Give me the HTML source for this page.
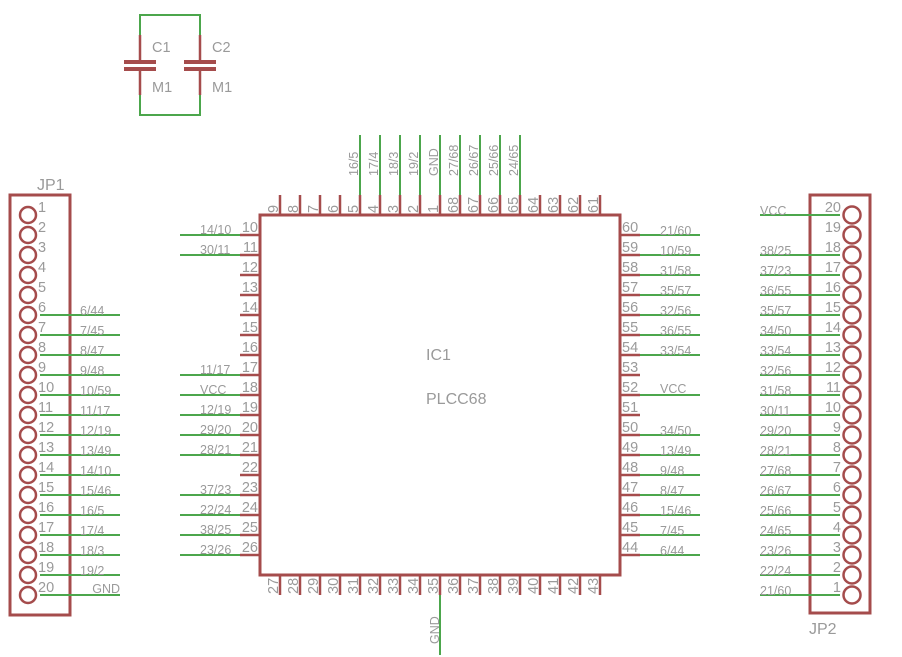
<!DOCTYPE html>
<html><head><meta charset="utf-8"><style>
html,body{margin:0;padding:0;background:#fff;}
svg{display:block;}
text{font-family:"Liberation Sans",sans-serif;fill:#9a9a9a;}
.n{font-size:14.5px;}
.l{font-size:12.5px;}
.r{stroke:#a54c4c;stroke-width:3;fill:none;}
.rs{stroke:#a54c4c;stroke-width:2.5;fill:none;}
.g{stroke:#4ca64c;stroke-width:2;fill:none;}
</style></head><body>
<svg width="902" height="657" viewBox="0 0 902 657" xmlns="http://www.w3.org/2000/svg">
<!-- capacitors -->
<path class="g" d="M140 35 V15 H200 V35 M140 95 V115 H200 V95"/>
<path class="rs" d="M140 35 V62 M140 69 V95 M200 35 V62 M200 69 V95"/>
<path d="M124 62 H156 M124 69 H156 M184 62 H216 M184 69 H216" stroke="#a54c4c" stroke-width="4"/>
<text class="n" x="152" y="52">C1</text><text class="n" x="212" y="52">C2</text>
<text class="n" x="152" y="92">M1</text><text class="n" x="212" y="92">M1</text>

<!-- IC body -->
<rect x="260" y="215" width="360" height="360" class="r"/>
<text x="426" y="360" style="font-size:16px">IC1</text>
<text x="426" y="404" style="font-size:16px">PLCC68</text>

<!-- left stubs -->
<path class="rs" d="M240 235H260M240 255H260M240 275H260M240 295H260M240 315H260M240 335H260M240 355H260M240 375H260M240 395H260M240 415H260M240 435H260M240 455H260M240 475H260M240 495H260M240 515H260M240 535H260M240 555H260"/>
<path class="g" d="M180 235H240M180 255H240M180 375H240M180 395H240M180 415H240M180 435H240M180 455H240M180 495H240M180 515H240M180 535H240M180 555H240"/>
<g class="n" text-anchor="end">
<text x="258" y="232">10</text><text x="258" y="252">11</text><text x="258" y="272">12</text><text x="258" y="292">13</text><text x="258" y="312">14</text><text x="258" y="332">15</text><text x="258" y="352">16</text><text x="258" y="372">17</text><text x="258" y="392">18</text><text x="258" y="412">19</text><text x="258" y="432">20</text><text x="258" y="452">21</text><text x="258" y="472">22</text><text x="258" y="492">23</text><text x="258" y="512">24</text><text x="258" y="532">25</text><text x="258" y="552">26</text>
</g>
<g class="l">
<text x="200" y="234">14/10</text><text x="200" y="254">30/11</text><text x="200" y="374">11/17</text><text x="200" y="394">VCC</text><text x="200" y="414">12/19</text><text x="200" y="434">29/20</text><text x="200" y="454">28/21</text><text x="200" y="494">37/23</text><text x="200" y="514">22/24</text><text x="200" y="534">38/25</text><text x="200" y="554">23/26</text>
</g>

<!-- right stubs -->
<path class="rs" d="M620 235H640M620 255H640M620 275H640M620 295H640M620 315H640M620 335H640M620 355H640M620 375H640M620 395H640M620 415H640M620 435H640M620 455H640M620 475H640M620 495H640M620 515H640M620 535H640M620 555H640"/>
<path class="g" d="M640 235H700M640 255H700M640 275H700M640 295H700M640 315H700M640 335H700M640 355H700M640 395H700M640 435H700M640 455H700M640 475H700M640 495H700M640 515H700M640 535H700M640 555H700"/>
<g class="n">
<text x="622" y="232">60</text><text x="622" y="252">59</text><text x="622" y="272">58</text><text x="622" y="292">57</text><text x="622" y="312">56</text><text x="622" y="332">55</text><text x="622" y="352">54</text><text x="622" y="372">53</text><text x="622" y="392">52</text><text x="622" y="412">51</text><text x="622" y="432">50</text><text x="622" y="452">49</text><text x="622" y="472">48</text><text x="622" y="492">47</text><text x="622" y="512">46</text><text x="622" y="532">45</text><text x="622" y="552">44</text>
</g>
<g class="l">
<text x="660" y="235">21/60</text><text x="660" y="255">10/59</text><text x="660" y="275">31/58</text><text x="660" y="295">35/57</text><text x="660" y="315">32/56</text><text x="660" y="335">36/55</text><text x="660" y="355">33/54</text><text x="660" y="393">VCC</text><text x="660" y="435">34/50</text><text x="660" y="455">13/49</text><text x="660" y="475">9/48</text><text x="660" y="495">8/47</text><text x="660" y="515">15/46</text><text x="660" y="535">7/45</text><text x="660" y="555">6/44</text>
</g>

<!-- top stubs -->
<path class="rs" d="M280 195V215M300 195V215M320 195V215M340 195V215M360 195V215M380 195V215M400 195V215M420 195V215M440 195V215M460 195V215M480 195V215M500 195V215M520 195V215M540 195V215M560 195V215M580 195V215M600 195V215"/>
<path class="g" d="M360 135V195M380 135V195M400 135V195M420 135V195M440 135V195M460 135V195M480 135V195M500 135V195M520 135V195"/>
<g class="n">
<text transform="translate(278,213) rotate(-90)">9</text><text transform="translate(298,213) rotate(-90)">8</text><text transform="translate(318,213) rotate(-90)">7</text><text transform="translate(338,213) rotate(-90)">6</text><text transform="translate(358,213) rotate(-90)">5</text><text transform="translate(378,213) rotate(-90)">4</text><text transform="translate(398,213) rotate(-90)">3</text><text transform="translate(418,213) rotate(-90)">2</text><text transform="translate(438,213) rotate(-90)">1</text><text transform="translate(458,213) rotate(-90)">68</text><text transform="translate(478,213) rotate(-90)">67</text><text transform="translate(498,213) rotate(-90)">66</text><text transform="translate(518,213) rotate(-90)">65</text><text transform="translate(538,213) rotate(-90)">64</text><text transform="translate(558,213) rotate(-90)">63</text><text transform="translate(578,213) rotate(-90)">62</text><text transform="translate(598,213) rotate(-90)">61</text>
</g>
<g class="l">
<text transform="translate(358,176) rotate(-90)">16/5</text><text transform="translate(378,176) rotate(-90)">17/4</text><text transform="translate(398,176) rotate(-90)">18/3</text><text transform="translate(418,176) rotate(-90)">19/2</text><text transform="translate(438,176) rotate(-90)">GND</text><text transform="translate(458,176) rotate(-90)">27/68</text><text transform="translate(478,176) rotate(-90)">26/67</text><text transform="translate(498,176) rotate(-90)">25/66</text><text transform="translate(518,176) rotate(-90)">24/65</text>
</g>

<!-- bottom stubs -->
<path class="rs" d="M280 575V595M300 575V595M320 575V595M340 575V595M360 575V595M380 575V595M400 575V595M420 575V595M440 575V595M460 575V595M480 575V595M500 575V595M520 575V595M540 575V595M560 575V595M580 575V595M600 575V595"/>
<path class="g" d="M440 595V655"/>
<g class="n">
<text transform="translate(278,594) rotate(-90)">27</text><text transform="translate(298,594) rotate(-90)">28</text><text transform="translate(318,594) rotate(-90)">29</text><text transform="translate(338,594) rotate(-90)">30</text><text transform="translate(358,594) rotate(-90)">31</text><text transform="translate(378,594) rotate(-90)">32</text><text transform="translate(398,594) rotate(-90)">33</text><text transform="translate(418,594) rotate(-90)">34</text><text transform="translate(438,594) rotate(-90)">35</text><text transform="translate(458,594) rotate(-90)">36</text><text transform="translate(478,594) rotate(-90)">37</text><text transform="translate(498,594) rotate(-90)">38</text><text transform="translate(518,594) rotate(-90)">39</text><text transform="translate(538,594) rotate(-90)">40</text><text transform="translate(558,594) rotate(-90)">41</text><text transform="translate(578,594) rotate(-90)">42</text><text transform="translate(598,594) rotate(-90)">43</text>
</g>
<text class="l" transform="translate(439,644) rotate(-90)">GND</text>

<!-- JP1 -->
<rect x="10" y="195" width="60" height="420" class="r"/>
<text x="37" y="190" style="font-size:16px">JP1</text>
<path class="g" d="M40 315H120M40 335H120M40 355H120M40 375H120M40 395H120M40 415H120M40 435H120M40 455H120M40 475H120M40 495H120M40 515H120M40 535H120M40 555H120M40 575H120M40 595H120"/>
<g class="rs">
<circle cx="28" cy="215" r="8"/><circle cx="28" cy="235" r="8"/><circle cx="28" cy="255" r="8"/><circle cx="28" cy="275" r="8"/><circle cx="28" cy="295" r="8"/><circle cx="28" cy="315" r="8"/><circle cx="28" cy="335" r="8"/><circle cx="28" cy="355" r="8"/><circle cx="28" cy="375" r="8"/><circle cx="28" cy="395" r="8"/><circle cx="28" cy="415" r="8"/><circle cx="28" cy="435" r="8"/><circle cx="28" cy="455" r="8"/><circle cx="28" cy="475" r="8"/><circle cx="28" cy="495" r="8"/><circle cx="28" cy="515" r="8"/><circle cx="28" cy="535" r="8"/><circle cx="28" cy="555" r="8"/><circle cx="28" cy="575" r="8"/><circle cx="28" cy="595" r="8"/>
</g>
<g class="n">
<text x="38" y="212">1</text><text x="38" y="232">2</text><text x="38" y="252">3</text><text x="38" y="272">4</text><text x="38" y="292">5</text><text x="38" y="312">6</text><text x="38" y="332">7</text><text x="38" y="352">8</text><text x="38" y="372">9</text><text x="38" y="392">10</text><text x="38" y="412">11</text><text x="38" y="432">12</text><text x="38" y="452">13</text><text x="38" y="472">14</text><text x="38" y="492">15</text><text x="38" y="512">16</text><text x="38" y="532">17</text><text x="38" y="552">18</text><text x="38" y="572">19</text><text x="38" y="592">20</text>
</g>
<g class="l">
<text x="80" y="315">6/44</text><text x="80" y="335">7/45</text><text x="80" y="355">8/47</text><text x="80" y="375">9/48</text><text x="80" y="395">10/59</text><text x="80" y="415">11/17</text><text x="80" y="435">12/19</text><text x="80" y="455">13/49</text><text x="80" y="475">14/10</text><text x="80" y="495">15/46</text><text x="80" y="515">16/5</text><text x="80" y="535">17/4</text><text x="80" y="555">18/3</text><text x="80" y="575">19/2</text><text x="120" y="593" text-anchor="end">GND</text>
</g>

<!-- JP2 -->
<rect x="810" y="195" width="60" height="418" class="r"/>
<text x="809" y="634" style="font-size:16px">JP2</text>
<path class="g" d="M760 215H840M760 255H840M760 275H840M760 295H840M760 315H840M760 335H840M760 355H840M760 375H840M760 395H840M760 415H840M760 435H840M760 455H840M760 475H840M760 495H840M760 515H840M760 535H840M760 555H840M760 575H840M760 595H840"/>
<g class="rs">
<circle cx="852" cy="215" r="8.5"/><circle cx="852" cy="235" r="8.5"/><circle cx="852" cy="255" r="8.5"/><circle cx="852" cy="275" r="8.5"/><circle cx="852" cy="295" r="8.5"/><circle cx="852" cy="315" r="8.5"/><circle cx="852" cy="335" r="8.5"/><circle cx="852" cy="355" r="8.5"/><circle cx="852" cy="375" r="8.5"/><circle cx="852" cy="395" r="8.5"/><circle cx="852" cy="415" r="8.5"/><circle cx="852" cy="435" r="8.5"/><circle cx="852" cy="455" r="8.5"/><circle cx="852" cy="475" r="8.5"/><circle cx="852" cy="495" r="8.5"/><circle cx="852" cy="515" r="8.5"/><circle cx="852" cy="535" r="8.5"/><circle cx="852" cy="555" r="8.5"/><circle cx="852" cy="575" r="8.5"/><circle cx="852" cy="595" r="8.5"/>
</g>
<g class="n" text-anchor="end">
<text x="841" y="212">20</text><text x="841" y="232">19</text><text x="841" y="252">18</text><text x="841" y="272">17</text><text x="841" y="292">16</text><text x="841" y="312">15</text><text x="841" y="332">14</text><text x="841" y="352">13</text><text x="841" y="372">12</text><text x="841" y="392">11</text><text x="841" y="412">10</text><text x="841" y="432">9</text><text x="841" y="452">8</text><text x="841" y="472">7</text><text x="841" y="492">6</text><text x="841" y="512">5</text><text x="841" y="532">4</text><text x="841" y="552">3</text><text x="841" y="572">2</text><text x="841" y="592">1</text>
</g>
<g class="l">
<text x="760" y="215">VCC</text><text x="760" y="255">38/25</text><text x="760" y="275">37/23</text><text x="760" y="295">36/55</text><text x="760" y="315">35/57</text><text x="760" y="335">34/50</text><text x="760" y="355">33/54</text><text x="760" y="375">32/56</text><text x="760" y="395">31/58</text><text x="760" y="415">30/11</text><text x="760" y="435">29/20</text><text x="760" y="455">28/21</text><text x="760" y="475">27/68</text><text x="760" y="495">26/67</text><text x="760" y="515">25/66</text><text x="760" y="535">24/65</text><text x="760" y="555">23/26</text><text x="760" y="575">22/24</text><text x="760" y="595">21/60</text>
</g>
</svg>
</body></html>
